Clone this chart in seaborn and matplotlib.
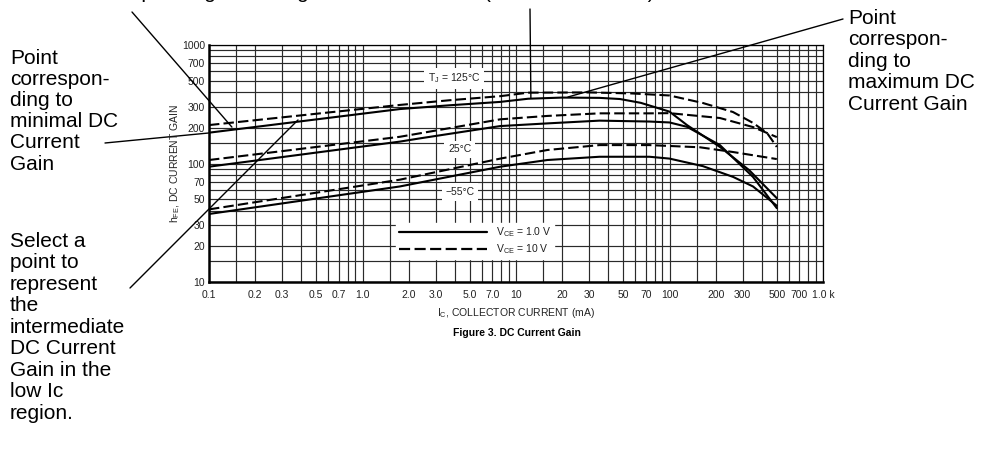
import numpy as np
import pandas as pd
import seaborn as sns
import matplotlib.pyplot as plt
from matplotlib.ticker import LogLocator, NullFormatter
from matplotlib.lines import Line2D

# ---------------------------------------
# Data (IC in mA, hFE)
# ---------------------------------------
ic_125_1v = [0.1, 1.75, 3.7, 7.9, 12, 20, 35, 47.6, 65, 100, 130, 213, 330, 500]
hfe_125_1v = [182, 288, 310, 331, 352, 360, 358, 350, 325, 274, 211, 138, 88, 51]

ic_125_10v = [0.1, 1.75, 3.7, 7.9, 12, 30, 57, 100, 165, 259, 350, 432, 500]
hfe_125_10v = [211, 312, 342, 370, 396, 398, 390, 375, 324, 272, 220, 181, 138]

ic_25_1v = [0.1, 1.75, 2.37, 7.9, 16, 35, 74, 100, 130, 213, 350, 500]
hfe_25_1v = [94, 153, 163, 207, 218, 230, 226, 222, 204, 143, 77, 42]

ic_25_10v = [0.1, 1.75, 7.9, 16, 35, 74, 100, 213, 350, 500]
hfe_25_10v = [107, 168, 236, 252, 265, 265, 266, 242, 203, 167]

ic_m55_1v = [0.1, 1.75, 7.9, 16, 35, 74, 100, 165, 260, 350, 500]
hfe_m55_1v = [37.5, 64, 94, 107, 114, 114, 110, 95, 77, 64, 44]

ic_m55_10v = [0.1, 1.75, 7.9, 16, 35, 74, 158, 259, 500]
hfe_m55_10v = [41, 73, 110, 130, 143, 143, 137, 125, 109]

x_ticks = [0.1, 0.2, 0.3, 0.5, 0.7, 1, 2, 3, 5, 7, 10, 20, 30, 50, 70, 100, 200, 300, 500, 700, 1000]
x_labels = ["0.1", "0.2", "0.3", "0.5", "0.7", "1.0", "2.0", "3.0", "5.0", "7.0",
            "10", "20", "30", "50", "70", "100", "200", "300", "500", "700", "1.0 k"]
y_ticks = [10, 20, 30, 50, 70, 100, 200, 300, 500, 700, 1000]

curves = [
    ("125", "1.0", ic_125_1v, hfe_125_1v),
    ("125", "10", ic_125_10v, hfe_125_10v),
    ("25", "1.0", ic_25_1v, hfe_25_1v),
    ("25", "10", ic_25_10v, hfe_25_10v),
    ("-55", "1.0", ic_m55_1v, hfe_m55_1v),
    ("-55", "10", ic_m55_10v, hfe_m55_10v),
]
df = pd.concat(
    [pd.DataFrame({"ic": x, "hfe": y, "tj": t, "vce": v, "series": t + "_" + v})
     for t, v, x, y in curves],
    ignore_index=True,
)

# ---------------------------------------
# Theme
# ---------------------------------------
sns.set_theme(style="white")
plt.rcParams["font.family"] = ["Liberation Sans", "DejaVu Sans"]
plt.rcParams["mathtext.default"] = "regular"
narrow = ["Liberation Sans Narrow", "Liberation Sans", "DejaVu Sans"]

fig = plt.figure(figsize=(9.82, 4.63), dpi=100)
ax = fig.add_axes([209 / 982, 1 - 282 / 463, 614 / 982, 237 / 463])

sns.lineplot(
    data=df, x="ic", y="hfe", units="series", estimator=None, sort=False,
    style="vce", dashes={"1.0": "", "10": (5, 2)}, color="black",
    linewidth=1.5, legend=False, ax=ax,
)

ax.set_xscale("log")
ax.set_yscale("log")
ax.set_xlim(0.1, 1000)
ax.set_ylim(10, 1000)

ax.set_xticks(x_ticks, x_labels, fontfamily=narrow, fontsize=7.5)
ax.set_yticks(y_ticks, [str(v) for v in y_ticks], fontfamily=narrow, fontsize=7.5)
sub = [1.5, 2, 3, 4, 5, 6, 7, 8, 9]
ax.xaxis.set_minor_locator(LogLocator(base=10, subs=sub))
ax.yaxis.set_minor_locator(LogLocator(base=10, subs=sub))
ax.xaxis.set_minor_formatter(NullFormatter())
ax.yaxis.set_minor_formatter(NullFormatter())
ax.tick_params(which="both", length=0, colors="#222222")
ax.tick_params(axis="x", pad=6)
ax.tick_params(axis="y", pad=3)
ax.grid(True, which="both", color="#2a2a2a", linewidth=0.85)

for side in ["top", "right"]:
    ax.spines[side].set_linewidth(0.9)
    ax.spines[side].set_color("black")
for side in ["left", "bottom"]:
    ax.spines[side].set_linewidth(1.8)
    ax.spines[side].set_color("black")

ax.set_xlabel("")
ax.set_ylabel("")
fig.text(175 / 982, 1 - 163 / 463, "h$_{FE}$, DC CURRENT GAIN", rotation=90,
         ha="center", va="center", fontsize=7.5, family=narrow, color="#222222")
fig.text(516 / 982, 1 - 313 / 463, "I$_C$, COLLECTOR CURRENT (mA)",
         ha="center", va="center", fontsize=7.5, family=narrow, color="#222222")
fig.text(517 / 982, 1 - 333 / 463, "Figure 3. DC Current Gain",
         ha="center", va="center", fontsize=7.5, fontweight="bold", family=narrow,
         color="black")

# temperature labels with white boxes
box = dict(boxstyle="square,pad=0.35", facecolor="white", edgecolor="none")
ax.text(3.95, 525, "T$_J$ = 125°C", ha="center", va="center", fontsize=7.5,
        family=narrow, bbox=box, color="#222222")
ax.text(4.3, 132, "25°C", ha="center", va="center", fontsize=7.5,
        family=narrow, bbox=box, color="#222222")
ax.text(4.3, 57.5, "\u221255°C", ha="center", va="center", fontsize=7.5,
        family=narrow, bbox=box, color="#222222")

# legend
handles = [Line2D([], [], color="black", lw=1.6),
           Line2D([], [], color="black", lw=1.6, dashes=(5, 2))]
leg = ax.legend(handles, ["V$_{CE}$ = 1.0 V", "V$_{CE}$ = 10 V"],
                loc="center", bbox_to_anchor=(0.433, 0.173), frameon=True,
                fancybox=False, edgecolor="white", facecolor="white", framealpha=1,
                handlelength=8.5, handletextpad=0.8, labelspacing=0.3,
                prop={"family": narrow, "size": 7.5}, borderpad=0.3)
for t in leg.get_texts():
    t.set_color("#222222")

# ---------------------------------------
# Callout text and lines
# ---------------------------------------
big = 15
fig.text(10 / 982, 1 - 49 / 463,
         "Point\ncorrespon-\nding to\nminimal DC\nCurrent\nGain",
         ha="left", va="top", fontsize=big, linespacing=1.14, color="black")
fig.text(10 / 982, 1 - 232 / 463,
         "Select a\npoint to\nrepresent\nthe\nintermediate\nDC Current\nGain in the\nlow Ic\nregion.",
         ha="left", va="top", fontsize=big, linespacing=1.165, color="black")
fig.text(848 / 982, 1 - 9 / 463,
         "Point\ncorrespon-\nding to\nmaximum DC\nCurrent Gain",
         ha="left", va="top", fontsize=big, linespacing=1.16, color="black")
# caption line above the top edge: only its lowest pixels are visible
fig.text(30 / 982, 1 + 2 / 463, "Point corresponding to average DC Current Gain",
         ha="left", va="baseline", fontsize=big, color="black")
fig.text(484 / 982, 1 + 2 / 463, "(T  = 125°C curve)", ha="left", va="baseline",
         fontsize=big, color="black")

callouts = [
    ((0.141, 203), (132, 12)),
    ((0.1, 181), (105, 143)),
    ((0.38, 233), (130, 288)),
    ((12.5, 357), (530, 9)),
    ((21.8, 364), (843, 19)),
]
for (xd, yd), (px, py) in callouts:
    ax.annotate("", xy=(xd, yd), xycoords="data",
                xytext=(px, 463 - py), textcoords="figure pixels",
                arrowprops=dict(arrowstyle="-", color="black", lw=1.0,
                                shrinkA=0, shrinkB=0),
                annotation_clip=False)

fig.savefig("out.png", dpi=100)
